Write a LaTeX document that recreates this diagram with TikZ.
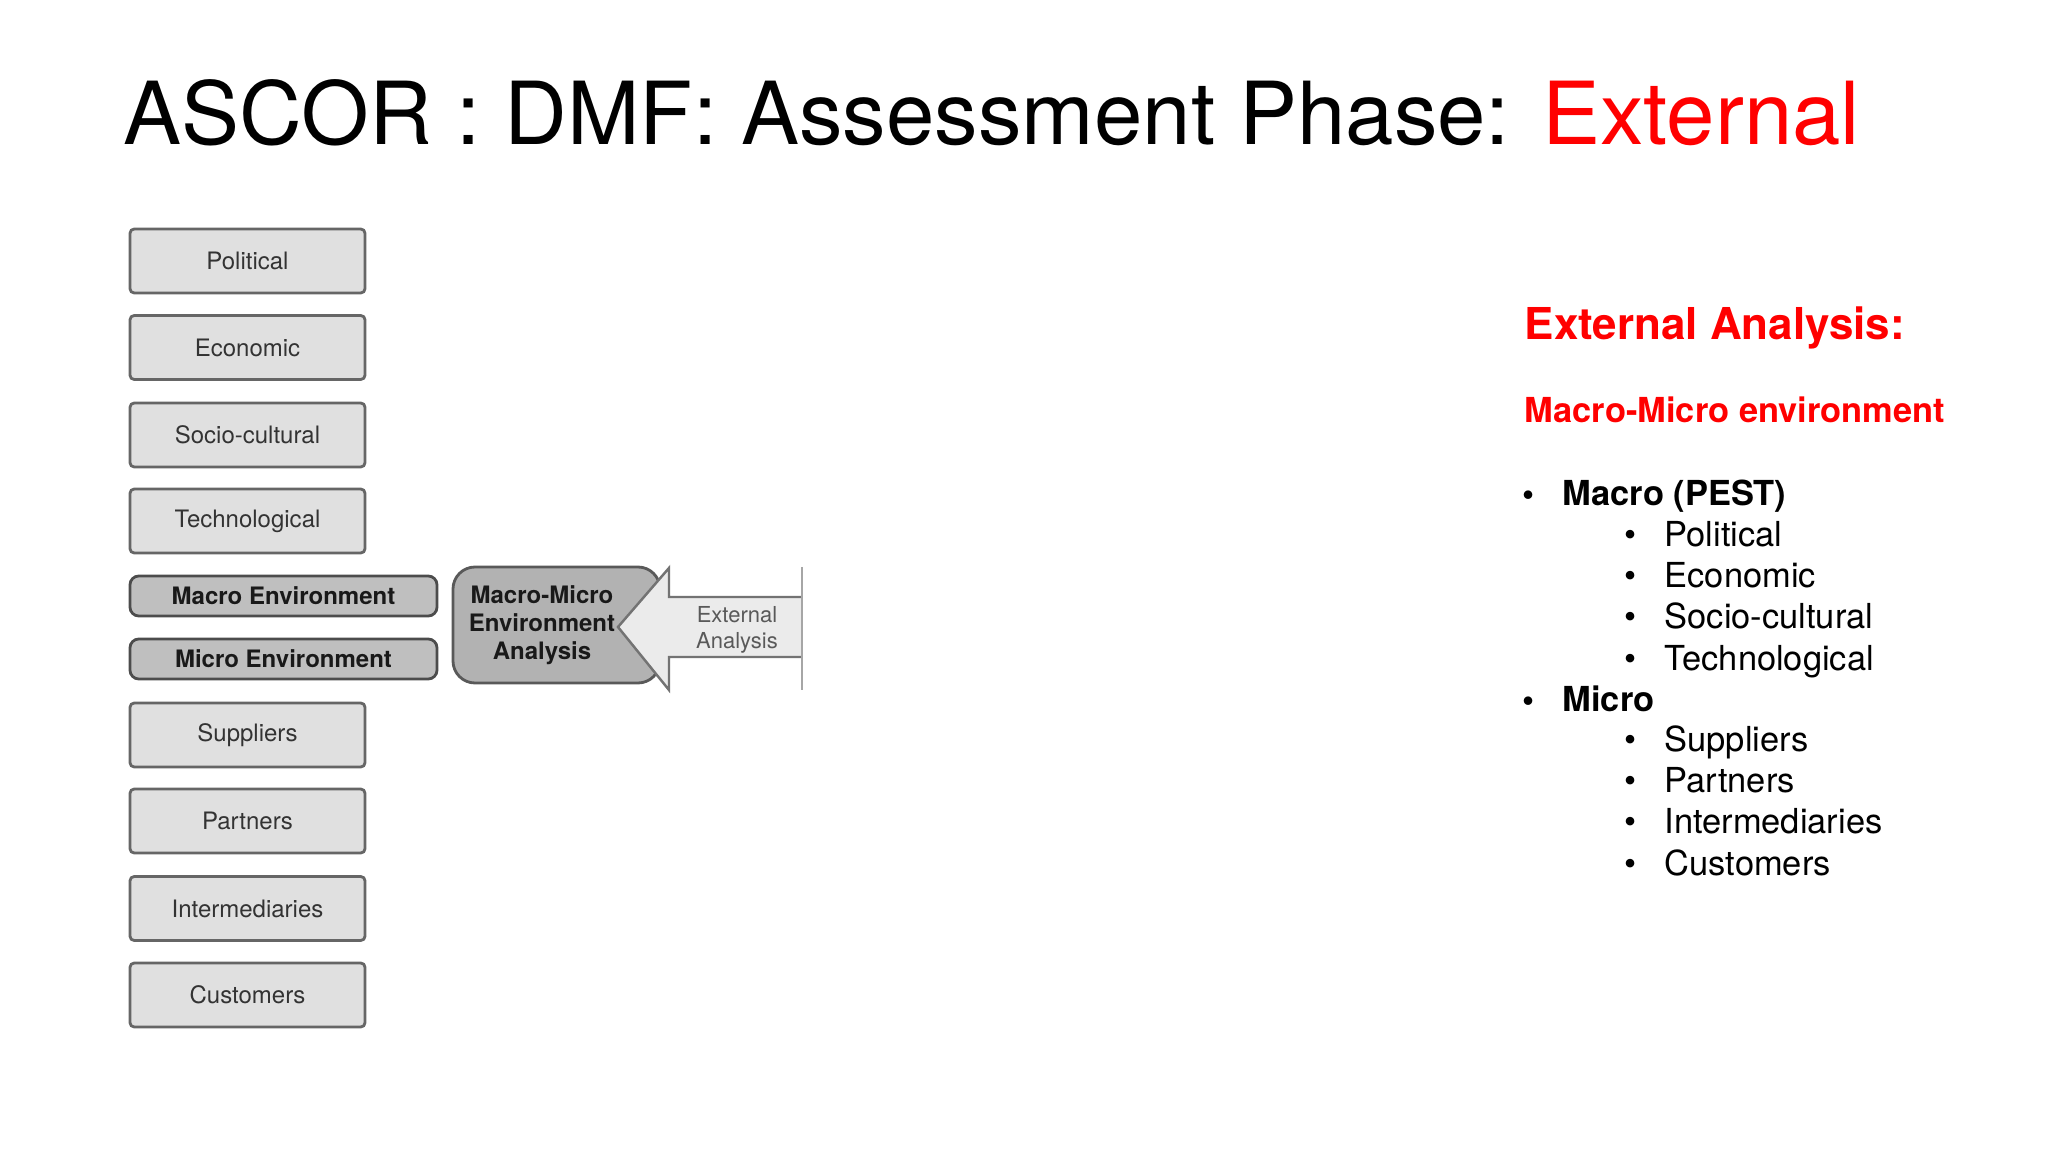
\documentclass[tikz,border=0pt]{standalone}
\usepackage{fontspec}
\setmainfont{TeX Gyre Heros}
\usepackage{tikz}
\tikzset{
	slidetitle/.style={anchor=base west, inner sep=0pt, font=\fontsize{24.75pt}{30pt}\selectfont},
	factor/.style={draw=black!60, fill=black!12, line width=0.8pt, rounded corners=1.2pt, minimum width=2.35cm, minimum height=0.64cm, inner sep=0pt, text=black!80, font=\fontsize{6.83pt}{8pt}\selectfont},
	envbox/.style={factor, draw=black!70, fill=black!25, minimum width=3.07cm, minimum height=0.40cm, rounded corners=2.5pt, text=black!90, font=\bfseries\fontsize{6.83pt}{8pt}\selectfont},
	heading/.style={anchor=base west, inner sep=0pt, text=red, font=\bfseries\fontsize{12.5pt}{15pt}\selectfont},
	listentry/.style={anchor=base west, inner sep=0pt, font=\fontsize{9.8pt}{12pt}\selectfont},
}
\newcommand{\pt}{\llap{\textbullet\hspace{0.28cm}}}

\begin{document}
\begin{tikzpicture}
		%%%%% START %%%%%
		
		\useasboundingbox (0, 0) rectangle (20.48, -11.52);
		
		\node[slidetitle] (title) at (1.23, -1.45) {ASCOR : DMF: Assessment Phase: \textcolor{red}{External}};
		
		\node[factor] (political) at (2.475, -2.61) {Political};
		\node[factor] (economic) at (2.475, -3.475) {Economic};
		\node[factor] (sociocult) at (2.475, -4.35) {Socio-cultural};
		\node[factor] (techno) at (2.475, -5.21) {Technological};
		
		\node[envbox] (macroenv) at (2.835, -5.96) {Macro Environment};
		\node[envbox] (microenv) at (2.835, -6.59) {Micro Environment};
		
		\node[factor] (suppliers) at (2.475, -7.35) {Suppliers};
		\node[factor] (partners) at (2.475, -8.21) {Partners};
		\node[factor] (intermed) at (2.475, -9.085) {Intermediaries};
		\node[factor] (customers) at (2.475, -9.95) {Customers};
		
		\node[draw=black!65, fill=black!30, line width=0.8pt, rounded corners=0.22cm, minimum width=2.07cm, minimum height=1.16cm] (mmbox) at (5.565, -6.25) {};
		
		\fill[black!8] (8.02, -5.97) -- (6.69, -5.97) -- (6.69, -5.68) -- (6.18, -6.27) -- (6.69, -6.90) -- (6.69, -6.57) -- (8.02, -6.57) -- cycle;
		\draw[line width=0.7pt, color=black!55] (8.02, -5.97) -- (6.69, -5.97) -- (6.69, -5.68) -- (6.18, -6.27) -- (6.69, -6.90) -- (6.69, -6.57) -- (8.02, -6.57);
		\draw[line width=0.6pt, color=black!35] (8.02, -5.67) -- (8.02, -6.90);
		
		\node[align=center, inner sep=0pt, text=black!90, font=\bfseries\fontsize{6.83pt}{7.97pt}\selectfont] (mmtext) at (5.42, -6.25) {Macro-Micro\\Environment\\Analysis};
		\node[align=center, inner sep=0pt, text=black!65, font=\fontsize{6.26pt}{7.4pt}\selectfont] (exttext) at (7.37, -6.30) {External\\Analysis};
		
		\node[heading] (extanalysis) at (15.24, -3.40) {External Analysis:};
		\node[heading, font=\bfseries\fontsize{9.8pt}{12pt}\selectfont] (mmenv) at (15.24, -4.23) {Macro-Micro environment};
		
		\node[listentry, font=\bfseries\fontsize{9.8pt}{12pt}\selectfont] (macro) at (15.62, -5.06) {\pt Macro (PEST)};
		\node[listentry] (lpol) at (16.64, -5.47) {\pt Political};
		\node[listentry] (leco) at (16.64, -5.88) {\pt Economic};
		\node[listentry] (lsoc) at (16.64, -6.29) {\pt Socio-cultural};
		\node[listentry] (ltec) at (16.64, -6.70) {\pt Technological};
		\node[listentry, font=\bfseries\fontsize{9.8pt}{12pt}\selectfont] (micro) at (15.62, -7.11) {\pt Micro};
		\node[listentry] (lsup) at (16.64, -7.52) {\pt Suppliers};
		\node[listentry] (lpar) at (16.64, -7.93) {\pt Partners};
		\node[listentry] (lint) at (16.64, -8.34) {\pt Intermediaries};
		\node[listentry] (lcus) at (16.64, -8.75) {\pt Customers};
		
		%%%%% END %%%%%
	\end{tikzpicture}
\end{document}
